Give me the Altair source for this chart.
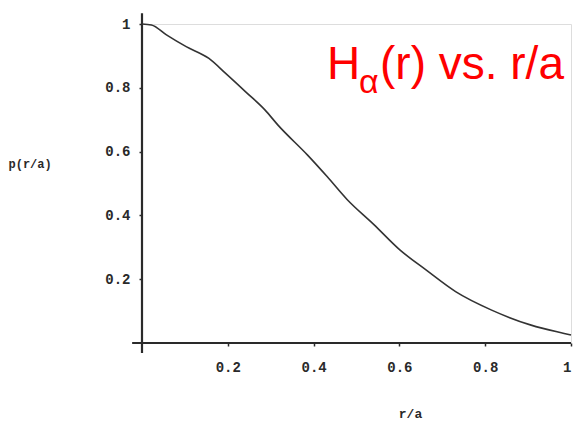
import altair as alt
import pandas as pd

# curve
r_over_a = [0.0, 0.022, 0.057, 0.103, 0.156, 0.195, 0.241, 0.287, 0.317, 0.386,
            0.432, 0.478, 0.540, 0.601, 0.662, 0.731, 0.815, 0.907, 0.984, 1.0]
p_values = [1.0, 0.997, 0.966, 0.929, 0.892, 0.845, 0.788, 0.730, 0.683, 0.589,
            0.521, 0.450, 0.372, 0.292, 0.229, 0.161, 0.103, 0.056, 0.030, 0.025]

x_ticks = [0.2, 0.4, 0.6, 0.8, 1.0]
y_ticks = [0.2, 0.4, 0.6, 0.8, 1.0]

title_main = "H"
title_sub = "\u03b1"
title_rest = "(r) vs. r/a"
x_title = "r/a"
y_title = "p(r/a)"

df = pd.DataFrame({"x": r_over_a, "y": p_values})

INK = "#2a2a2a"
MONO = "Liberation Mono"

xscale = alt.Scale(domain=[0, 1], nice=False, zero=False)
yscale = alt.Scale(domain=[0, 1], nice=False, zero=False)

xaxis = alt.Axis(values=x_ticks, format=".1~f", domain=False, grid=False,
                 tickSize=3, tickColor=INK, tickWidth=1.5,
                 labelFont=MONO, labelFontWeight="bold", labelFontSize=14,
                 labelColor=INK, labelPadding=14,
                 title=x_title, titleFont=MONO, titleFontSize=13,
                 titleFontWeight="bold", titleColor=INK,
                 titleX=268, titleY=70, titleBaseline="middle", titleAlign="center")
yaxis = alt.Axis(values=y_ticks, format=".1~f", domain=False, grid=False,
                 tickSize=3, tickColor=INK, tickWidth=1.5,
                 labelFont=MONO, labelFontWeight="bold", labelFontSize=14,
                 labelColor=INK, labelPadding=9,
                 title=y_title, titleFont=MONO, titleFontSize=12,
                 titleFontWeight="bold", titleColor=INK, titleAngle=0,
                 titleAlign="left", titleBaseline="middle",
                 titleX=-134, titleY=139)

line = alt.Chart(df).mark_line(color="#333333", strokeWidth=1.6,
                               interpolate="monotone").encode(
    x=alt.X("x:Q", scale=xscale, axis=xaxis),
    y=alt.Y("y:Q", scale=yscale, axis=yaxis),
)

axis_lines = pd.DataFrame({
    "x": [0.0, -0.023], "x2": [0.0, 1.0],
    "y": [-0.031, 0.0], "y2": [1.034, 0.0],
})
rules = alt.Chart(axis_lines).mark_rule(color=INK, strokeWidth=2.2).encode(
    x="x:Q", x2="x2:Q", y="y:Q", y2="y2:Q"
)

one = pd.DataFrame({"t": [0]})
t1 = alt.Chart(one).mark_text(text=title_main, font="Liberation Sans", fontSize=46,
                              color="#ff0000", align="left", baseline="alphabetic").encode(
    x=alt.value(185), y=alt.value(55))
t2 = alt.Chart(one).mark_text(text=title_sub, font="Liberation Sans", fontSize=34,
                              color="#ff0000", align="left", baseline="alphabetic").encode(
    x=alt.value(217), y=alt.value(69))
t3 = alt.Chart(one).mark_text(text=title_rest, font="Liberation Sans", fontSize=46,
                              color="#ff0000", align="left", baseline="alphabetic").encode(
    x=alt.value(238), y=alt.value(55))

chart = alt.layer(rules, line, t1, t2, t3).properties(
    width=429, height=319,
    padding={"left": 134, "top": 16, "right": 2, "bottom": 79},
    autosize=alt.AutoSizeParams(type="none"),
).configure_view(stroke=None).configure(background="white")

chart.save("out.html", embed_options={"renderer": "svg", "actions": False})
